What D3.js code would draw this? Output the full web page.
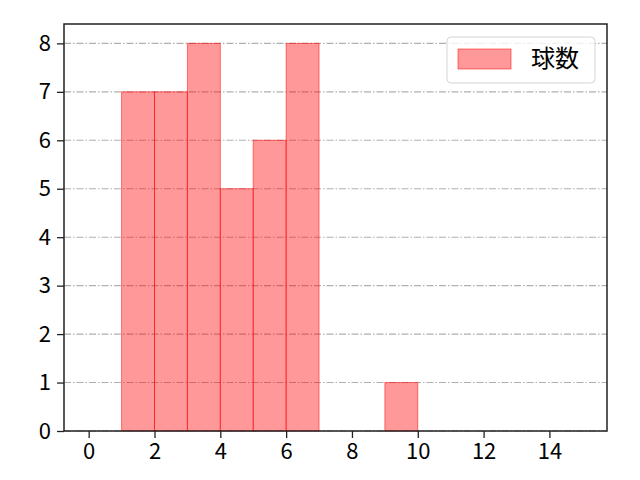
<!DOCTYPE html>
<html>
<head>
<meta charset="utf-8">
<script src="https://cdn.jsdelivr.net/npm/d3@7"></script>
<style>
  body { margin: 0; background: #fff; }
  svg text { font-family: "Noto Sans CJK JP", "DejaVu Sans", sans-serif; fill: #000; }
</style>
</head>
<body>
<div id="chart"></div>
<script>
// histogram bins (left edge, right edge) and counts
var binStarts = [1, 2, 3, 4, 5, 6, 9];
var binEnds = [2, 3, 4, 5, 6, 7, 10];
var counts = [7, 7, 8, 5, 6, 8, 1];
var xTicks = [0, 2, 4, 6, 8, 10, 12, 14];
var yTicks = [0, 1, 2, 3, 4, 5, 6, 7, 8];
var seriesName = '球数';

var w = 640, h = 480;
var margin = {top: 24, right: 33, bottom: 49, left: 64};

var svg = d3.select('#chart').append('svg')
  .attr('width', w)
  .attr('height', h);

var x = d3.scaleLinear().domain([-0.75, 15.75]).range([margin.left, w - margin.right]);
var y = d3.scaleLinear().domain([0, 8.4]).range([h - margin.bottom, margin.top]);

// grid lines (horizontal only)
svg.append('g')
  .selectAll('line')
  .data(yTicks)
  .enter()
  .append('line')
  .attr('x1', margin.left)
  .attr('x2', w - margin.right)
  .attr('y1', function(d) { return y(d); })
  .attr('y2', function(d) { return y(d); })
  .attr('stroke', '#b0b0b0')
  .attr('stroke-width', 1.1)
  .attr('stroke-dasharray', '7,2,1.5,2');

// bars
svg.append('g')
  .selectAll('rect')
  .data(counts)
  .enter()
  .append('rect')
  .attr('x', function(d, i) { return x(binStarts[i]); })
  .attr('y', function(d) { return y(d); })
  .attr('width', function(d, i) { return x(binEnds[i]) - x(binStarts[i]); })
  .attr('height', function(d) { return y(0) - y(d); })
  .attr('fill', 'rgba(255,0,0,0.4)')
  .attr('stroke', 'rgba(255,0,0,0.5)')
  .attr('stroke-width', 1);

// axes
var xAxis = d3.axisBottom(x).tickValues(xTicks).tickSize(7).tickPadding(5);
var yAxis = d3.axisLeft(y).tickValues(yTicks).tickSize(7).tickPadding(6);

var gx = svg.append('g')
  .attr('transform', 'translate(0,' + (h - margin.bottom) + ')')
  .call(xAxis);
var gy = svg.append('g')
  .attr('transform', 'translate(' + margin.left + ',0)')
  .call(yAxis);

[gx, gy].forEach(function(g) {
  g.select('.domain').remove();
  g.selectAll('.tick line').attr('stroke', '#222').attr('stroke-width', 1.3);
  g.selectAll('.tick text').style('font-size', '22px');
});

// frame
svg.append('rect')
  .attr('x', margin.left)
  .attr('y', margin.top)
  .attr('width', w - margin.left - margin.right)
  .attr('height', h - margin.top - margin.bottom)
  .attr('fill', 'none')
  .attr('stroke', '#222')
  .attr('stroke-width', 1.5);

// legend
var legend = svg.append('g');
legend.append('rect')
  .attr('x', 447)
  .attr('y', 37)
  .attr('width', 148)
  .attr('height', 46)
  .attr('rx', 4)
  .attr('fill', 'rgba(255,255,255,0.8)')
  .attr('stroke', '#d5d5d5')
  .attr('stroke-width', 1);
legend.append('rect')
  .attr('x', 458)
  .attr('y', 49)
  .attr('width', 53)
  .attr('height', 20)
  .attr('fill', 'rgba(255,0,0,0.4)')
  .attr('stroke', 'rgba(255,0,0,0.5)')
  .attr('stroke-width', 1);
legend.append('text')
  .attr('x', 531)
  .attr('y', 59)
  .attr('dy', '0.35em')
  .style('font-size', '24px')
  .text(seriesName);
</script>
</body>
</html>
